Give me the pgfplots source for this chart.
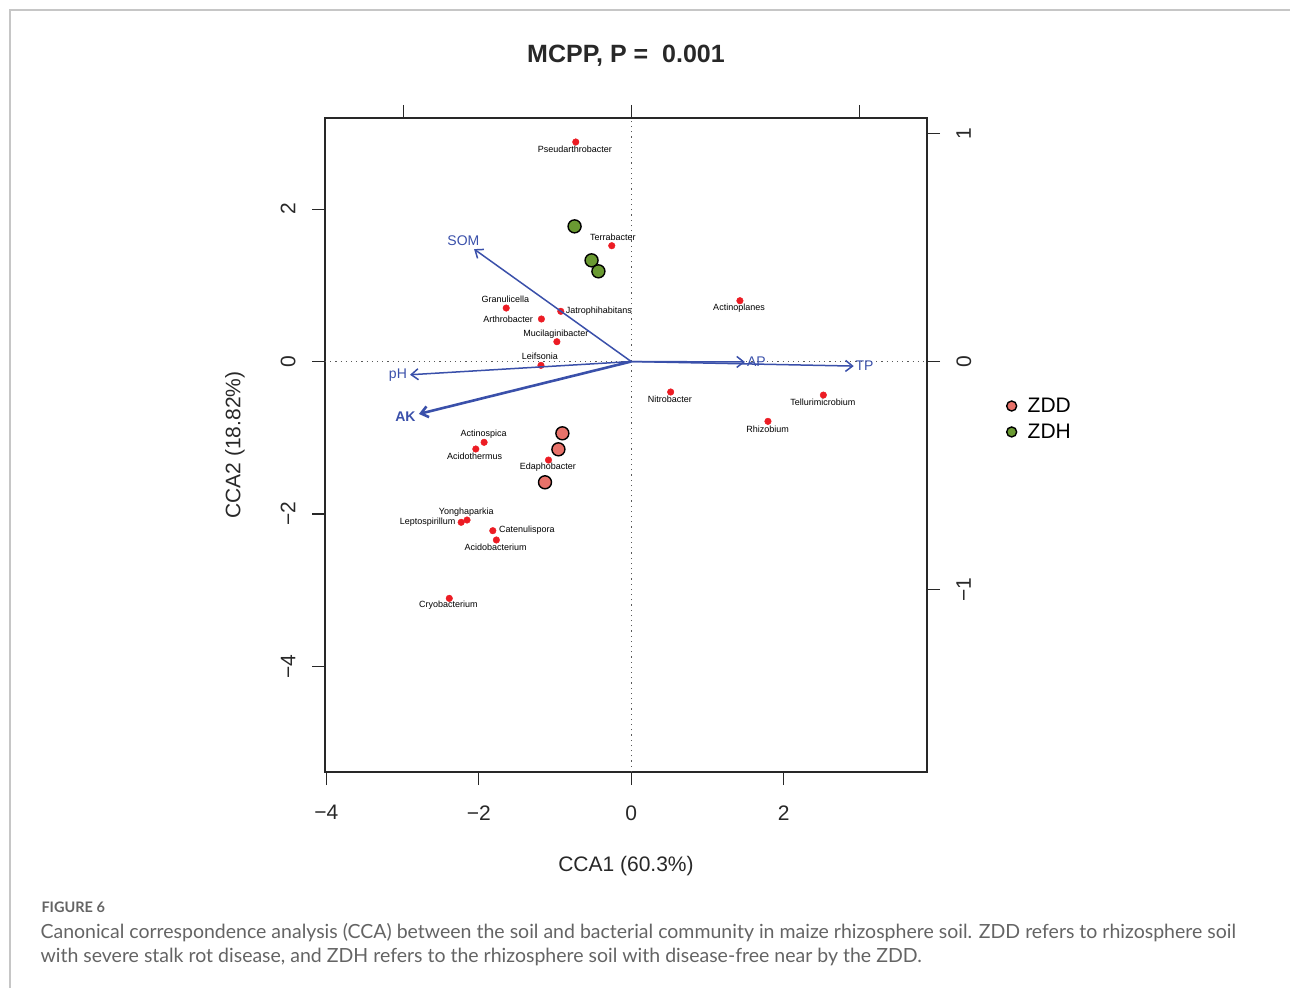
\documentclass[border=0pt]{standalone}
\usepackage{fontspec}
\setmainfont{Liberation Sans}
\newfontfamily\capfont{Lato}
\usepackage{pgfplots}
\pgfplotsset{compat=1.18}
\usepackage{pgfplotstable}
\usetikzlibrary{arrows.meta}

\definecolor{ptred}{RGB}{236,28,36}
\definecolor{zdd}{RGB}{232,114,106}
\definecolor{zdh}{RGB}{106,154,50}
\definecolor{arrowblue}{RGB}{58,80,170}
\definecolor{capgray}{RGB}{100,100,100}
\definecolor{axgray}{RGB}{40,40,40}

% species scores (CCA1, CCA2)
\pgfplotstableread{
x y
-0.727 2.881
-0.255 1.520
-1.640 0.702
-0.924 0.659
-1.178 0.558
-0.975 0.260
-1.184 -0.050
1.427 0.798
0.518 -0.400
2.522 -0.440
1.795 -0.785
-1.930 -1.060
-2.039 -1.148
-1.085 -1.293
-2.154 -2.080
-2.231 -2.110
-1.816 -2.220
-1.769 -2.342
-2.387 -3.108
}\species

% species label positions
\pgfplotstableread{
x y name
-0.738 2.780 Pseudarthrobacter
-0.239 1.634 Terrabacter
-1.650 0.820 Granulicella
-0.425 0.659 Jatrophihabitans
-1.614 0.549 Arthrobacter
-0.987 0.361 Mucilaginibacter
-1.197 0.063 Leifsonia
1.415 0.706 Actinoplanes
0.509 -0.496 Nitrobacter
2.517 -0.541 Tellurimicrobium
1.790 -0.886 Rhizobium
-1.936 -0.951 Actinospica
-2.055 -1.244 Acidothermus
-1.094 -1.385 Edaphobacter
-2.164 -1.975 Yonghaparkia
-2.672 -2.106 Leptospirillum
-1.370 -2.215 Catenulispora
-1.780 -2.444 Acidobacterium
-2.398 -3.199 Cryobacterium
}\speclabels

% site scores
\pgfplotstableread{
x y
-0.903 -0.942
-0.955 -1.152
-1.131 -1.585
}\zdd

\pgfplotstableread{
x y
-0.743 1.774
-0.520 1.328
-0.430 1.184
}\zdh

% environmental arrow labels (biplot scale)
\pgfplotstableread{
x y name
-0.736 0.528 SOM
0.549 0.000 AP
1.023 -0.020 TP
-1.023 -0.059 pH
}\envlabels

\begin{document}
\begin{tikzpicture}
\path[use as bounding box] (0,0) rectangle (1290pt,-988pt);
\draw[gray!45, line width=1.5pt] (10pt,-988pt) -- (10pt,-10pt) -- (1290pt,-10pt);

\node[anchor=west, text=capgray, font=\capfont\fontsize{14.5}{17}\selectfont\bfseries] at (38pt,-907pt) {FIGURE 6};
\node[anchor=west, text=capgray, font=\capfont\fontsize{19.5}{23}\selectfont] at (37pt,-933pt) {Canonical correspondence analysis (CCA) between the soil and bacterial community in maize rhizosphere soil. ZDD refers to rhizosphere soil};
\node[anchor=west, text=capgray, font=\capfont\fontsize{19.5}{23}\selectfont] at (37pt,-957pt) {with severe stalk rot disease, and ZDH refers to the rhizosphere soil with disease-free near by the ZDD.};

\begin{axis}[
  at={(325pt,-772pt)}, anchor=south west,
  scale only axis, width=602pt, height=654pt,
  xmin=-4.018, xmax=3.882, ymin=-5.387, ymax=3.196,
  axis line style={axgray, line width=1.3pt},
  tick align=outside, major tick length=13pt,
  every tick/.style={axgray, line width=1.2pt},
  xtick={-4,-2,0,2}, xticklabels={−4,−2,0,2},
  ytick={-4,-2,0,2}, yticklabels={−4,−2,0,2},
  xtick pos=bottom, ytick pos=left,
  ticklabel style={font=\fontsize{21}{25}\selectfont, text=axgray},
  xticklabel style={anchor=north, yshift=-17pt},
  yticklabel style={rotate=90, anchor=south, yshift=13pt},
  xlabel={CCA1 (60.3\%)}, ylabel={CCA2 (18.82\%)},
  label style={font=\fontsize{21}{25}\selectfont, text=axgray},
  xlabel style={at={(axis description cs:0.5,-0.1407)}, anchor=center, yshift=-2pt},
  ylabel style={at={(axis description cs:-0.1495,0.5)}, anchor=center},
  title={MCPP, P =\ \ 0.001},
  title style={at={(axis description cs:0.5,1.0994)}, anchor=center, yshift=-9pt, font=\fontsize{25}{30}\selectfont\bfseries, text=axgray},
  legend style={at={(axis description cs:1.132,0.5398)}, anchor=west, draw=none, fill=none,
    font=\fontsize{21}{25}\selectfont, inner sep=0pt, row sep=6pt, column sep=9pt, cells={anchor=west}},
  legend image post style={mark size=5pt, line width=1pt},
]
\addplot[forget plot, gray!70!black, line width=1.1pt, dash pattern=on 1.2pt off 4pt] coordinates {(0,-5.387) (0,3.196)};
\addplot[forget plot, gray!70!black, line width=1.1pt, dash pattern=on 1.2pt off 4pt] coordinates {(-4.018,0) (3.882,0)};

\addplot[only marks, mark=*, mark size=6.5pt, mark options={draw=black, line width=1.4pt, fill=zdd}] table[x=x,y=y]{\zdd};
\addlegendentry{ZDD}
\addplot[only marks, mark=*, mark size=6.5pt, mark options={draw=black, line width=1.4pt, fill=zdh}] table[x=x,y=y]{\zdh};
\addlegendentry{ZDH}

\addplot[forget plot, only marks, mark=*, mark size=3.3pt, mark options={draw=ptred, fill=ptred}] table[x=x,y=y]{\species};

\addplot[forget plot, draw=none, mark=none, nodes near coords, point meta=explicit symbolic,
  nodes near coords style={anchor=center, inner sep=0pt, text=black, font=\fontsize{9}{10}\selectfont}]
  table[x=x,y=y,meta=name]{\speclabels};
\end{axis}

\begin{axis}[
  at={(325pt,-772pt)}, anchor=south west,
  scale only axis, width=602pt, height=654pt,
  xmin=-1.3429, xmax=1.2974, ymin=-1.8004, ymax=1.0681,
  axis line style={draw=none},
  tick align=outside, major tick length=13pt,
  every tick/.style={axgray, line width=1.2pt},
  xtick={-1,0,1}, xticklabels={}, xtick pos=top,
  ytick={-1,0,1}, yticklabels={−1,0,1}, ytick pos=right, yticklabel pos=right,
  ticklabel style={font=\fontsize{21}{25}\selectfont, text=axgray},
  yticklabel style={rotate=90, anchor=north, yshift=-13pt},
]
\addplot[arrowblue, line width=1.5pt, -{Straight Barb[length=7pt,width=11pt]}] coordinates {(0,0) (-0.689,0.493)};
\addplot[arrowblue, line width=1.5pt, -{Straight Barb[length=7pt,width=11pt]}] coordinates {(0,0) (0.499,-0.002)};
\addplot[arrowblue, line width=1.5pt, -{Straight Barb[length=7pt,width=11pt]}] coordinates {(0,0) (0.976,-0.020)};
\addplot[arrowblue, line width=1.5pt, -{Straight Barb[length=7pt,width=11pt]}] coordinates {(0,0) (-0.970,-0.058)};
\addplot[arrowblue, line width=2.6pt, -{Straight Barb[length=7pt,width=11pt]}] coordinates {(0,0) (-0.931,-0.230)};
\addplot[draw=none, mark=none, nodes near coords, point meta=explicit symbolic,
  nodes near coords style={anchor=center, inner sep=0pt, text=arrowblue, font=\fontsize{14}{16}\selectfont}]
  table[x=x,y=y,meta=name]{\envlabels};
\addplot[draw=none, mark=none, nodes near coords, point meta=explicit symbolic,
  nodes near coords style={anchor=center, inner sep=0pt, text=arrowblue, font=\fontsize{14}{16}\selectfont\bfseries}]
  coordinates {(-0.990,-0.243)[AK]};
\end{axis}
\end{tikzpicture}
\end{document}
